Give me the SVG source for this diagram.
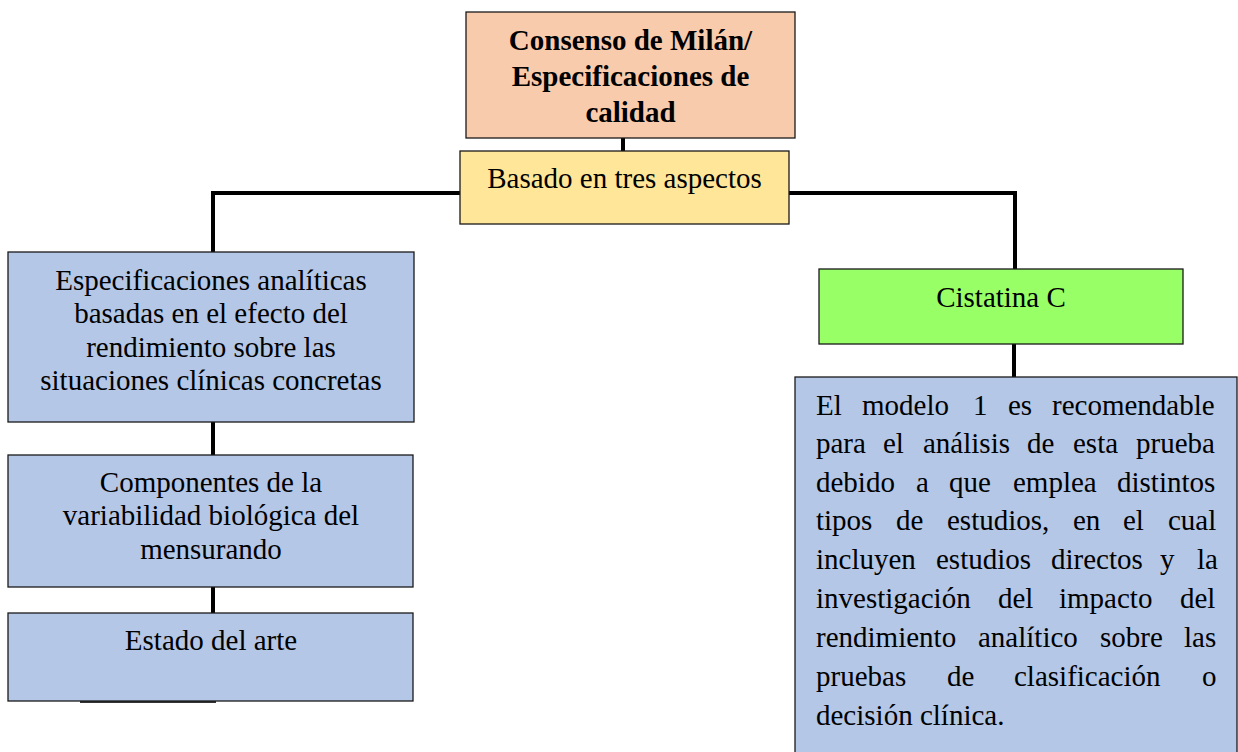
<svg xmlns="http://www.w3.org/2000/svg" width="1238" height="752" viewBox="0 0 1238 752">
<style>
.box{stroke:#1a1a1a;stroke-width:1.3}
.t{font-family:"Liberation Serif","Times New Roman",serif;font-size:29px;fill:#000}
.c{text-anchor:middle}
.b{font-weight:bold}
.conn{stroke:#000;stroke-width:4;fill:none}
</style>
<rect width="1238" height="752" fill="#fff"/>
<g id="connectors">
<line class="conn" x1="623" y1="138" x2="623" y2="151"/>
<polyline class="conn" points="460,193 213,193 213,252"/>
<polyline class="conn" points="789,193 1015,193 1015,269"/>
<line class="conn" x1="213" y1="422" x2="213" y2="455"/>
<line class="conn" x1="213" y1="587" x2="213" y2="613"/>
<line class="conn" x1="1014" y1="344" x2="1014" y2="377"/>
<line x1="80" y1="702" x2="216" y2="702" stroke="#333" stroke-width="2"/>
</g>
<g id="consenso">
<rect class="box" x="466" y="12" width="329" height="126" fill="#F8CBAD"/>
<text class="t c b" x="630.5"><tspan x="630.5" y="50">Consenso de Milán/</tspan><tspan x="630.5" y="86">Especificaciones de</tspan><tspan x="630.5" y="122">calidad</tspan></text>
</g>
<g id="basado">
<rect class="box" x="460" y="151" width="329" height="73" fill="#FFE699"/>
<text class="t c" x="624.5" y="188">Basado en tres aspectos</text>
</g>
<g id="especificaciones">
<rect class="box" x="8" y="252" width="406" height="170" fill="#B4C7E7"/>
<text class="t c"><tspan x="211" y="290">Especificaciones analíticas</tspan><tspan x="211" y="323">basadas en el efecto del</tspan><tspan x="211" y="357">rendimiento sobre las</tspan><tspan x="211" y="390">situaciones clínicas concretas</tspan></text>
</g>
<g id="componentes">
<rect class="box" x="8" y="455" width="405" height="132" fill="#B4C7E7"/>
<text class="t c"><tspan x="211" y="492">Componentes de la</tspan><tspan x="211" y="525">variabilidad biológica del</tspan><tspan x="211" y="559">mensurando</tspan></text>
</g>
<g id="estado">
<rect class="box" x="8" y="613" width="405" height="88" fill="#B4C7E7"/>
<text class="t c" x="211" y="650">Estado del arte</text>
</g>
<g id="cistatina">
<rect class="box" x="819" y="269" width="364" height="75" fill="#99FF66"/>
<text class="t c" x="1001" y="307">Cistatina C</text>
</g>
<g id="modelo">
<rect class="box" x="795" y="377" width="442" height="385" fill="#B4C7E7"/>
<text class="t">
<tspan x="816" y="415">El</tspan><tspan x="862" y="415">modelo</tspan><tspan x="973" y="415">1</tspan><tspan x="1008" y="415">es</tspan><tspan x="1052" y="415">recomendable</tspan>
<tspan x="816" y="453">para</tspan><tspan x="883" y="453">el</tspan><tspan x="923" y="453">análisis</tspan><tspan x="1027" y="453">de</tspan><tspan x="1073" y="453">esta</tspan><tspan x="1136" y="453">prueba</tspan>
<tspan x="816" y="492">debido</tspan><tspan x="916" y="492">a</tspan><tspan x="949" y="492">que</tspan><tspan x="1013" y="492">emplea</tspan><tspan x="1117" y="492">distintos</tspan>
<tspan x="816" y="530">tipos</tspan><tspan x="896" y="530">de</tspan><tspan x="947" y="530">estudios,</tspan><tspan x="1073" y="530">en</tspan><tspan x="1123" y="530">el</tspan><tspan x="1168" y="530">cual</tspan>
<tspan x="816" y="569">incluyen</tspan><tspan x="936" y="569">estudios</tspan><tspan x="1051" y="569">directos</tspan><tspan x="1160" y="569">y</tspan><tspan x="1197" y="569">la</tspan>
<tspan x="816" y="608">investigación</tspan><tspan x="998" y="608">del</tspan><tspan x="1059" y="608">impacto</tspan><tspan x="1180" y="608">del</tspan>
<tspan x="816" y="647">rendimiento</tspan><tspan x="978" y="647">analítico</tspan><tspan x="1100" y="647">sobre</tspan><tspan x="1184" y="647">las</tspan>
<tspan x="816" y="686">pruebas</tspan><tspan x="947" y="686">de</tspan><tspan x="1014" y="686">clasificación</tspan><tspan x="1202" y="686">o</tspan>
<tspan x="816" y="725">decisión clínica.</tspan>
</text>
</g>
</svg>
